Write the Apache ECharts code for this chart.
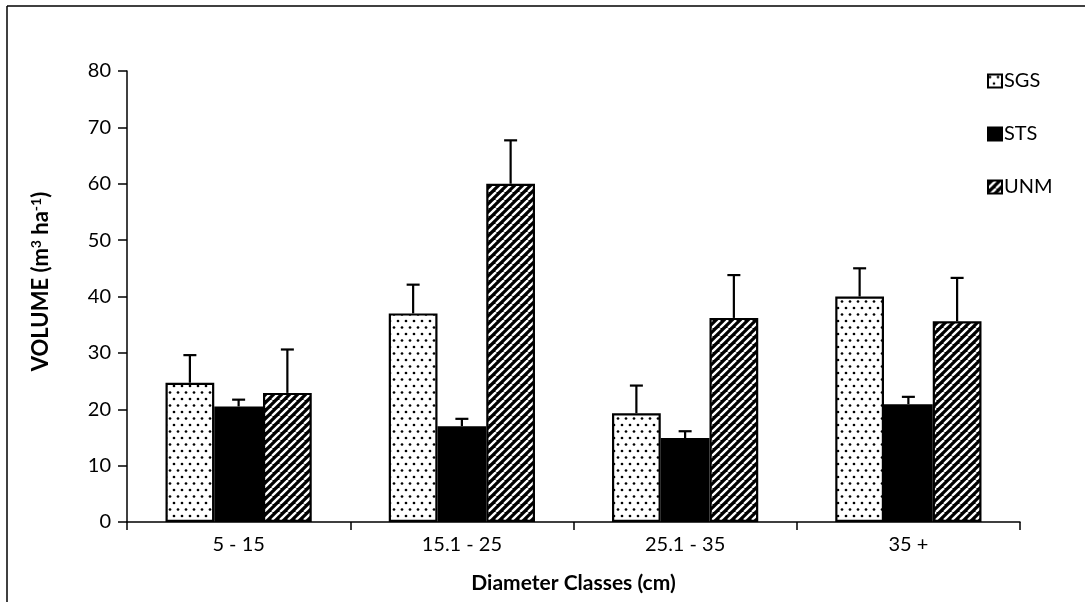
<!DOCTYPE html>
<html>
<head>
<meta charset="utf-8">
<script src="https://cdn.jsdelivr.net/npm/echarts@6/dist/echarts.min.js"></script>
<style>
  html, body { margin: 0; padding: 0; background: #fff; }
  #chart { width: 1085px; height: 602px; }
</style>
</head>
<body>
<div id="chart"></div>
<script>
// Stand volume by diameter class, three treatments, mean with upward error bars
const categories = ['5 - 15', '15.1 - 25', '25.1 - 35', '35 +'];
const seriesNames = ['SGS', 'STS', 'UNM'];
const sgsValues = [24.7, 37.0, 19.3, 40.0];
const stsValues = [20.5, 17.0, 14.9, 20.9];
const unmValues = [22.9, 60.0, 36.2, 35.6];
const sgsErrors = [4.9, 5.1, 4.9, 5.0];
const stsErrors = [1.2, 1.3, 1.2, 1.3];
const unmErrors = [7.7, 7.7, 7.6, 7.7];
const yTicks = [0, 10, 20, 30, 40, 50, 60, 70, 80];

const FONT = 'Lato, "Open Sans", sans-serif';

// Dotted fill
function dotPattern() {
  const c = document.createElement('canvas');
  c.width = 8; c.height = 13;
  const g = c.getContext('2d');
  g.fillStyle = '#fff'; g.fillRect(0, 0, 8, 13);
  g.fillStyle = '#000';
  g.beginPath(); g.arc(2, 2.5, 1.35, 0, Math.PI * 2); g.fill();
  g.beginPath(); g.arc(6, 9, 1.35, 0, Math.PI * 2); g.fill();
  return c;
}
// Diagonal hatch: white stripes on black, rising to the right
function hatchPattern() {
  const s = 8;
  const c = document.createElement('canvas');
  c.width = s; c.height = s;
  const g = c.getContext('2d');
  g.fillStyle = '#000'; g.fillRect(0, 0, s, s);
  g.strokeStyle = '#fff'; g.lineWidth = 2.3;
  for (let k = -1; k <= 1; k++) {
    g.beginPath();
    g.moveTo(k * s, s);
    g.lineTo(k * s + s, 0);
    g.stroke();
  }
  return c;
}

const fills = [
  { image: dotPattern(), repeat: 'repeat' },
  '#000',
  { image: hatchPattern(), repeat: 'repeat' }
];
const values = [sgsValues, stsValues, unmValues];
const errors = [sgsErrors, stsErrors, unmErrors];

const BAR_GAP_RATIO = 0.345;

function errorSeries(idx) {
  return {
    type: 'custom',
    name: seriesNames[idx] + ' error',
    z: 5,
    data: categories.map((c, i) => [i, values[idx][i], errors[idx][i]]),
    renderItem: function (params, api) {
      const ci = api.value(0);
      const base = api.coord([ci, api.value(1)]);
      const top = api.coord([ci, api.value(1) + api.value(2)]);
      const band = api.size([1, 0])[0];
      const bw = band * (1 - BAR_GAP_RATIO) / 3;
      const x = base[0] + (idx - 1) * bw;
      const cap = 6.5;
      return {
        type: 'group',
        children: [
          { type: 'line', shape: { x1: x, y1: base[1], x2: x, y2: top[1] }, style: { stroke: '#000', lineWidth: 2.2 } },
          { type: 'line', shape: { x1: x - cap, y1: top[1], x2: x + cap, y2: top[1] }, style: { stroke: '#000', lineWidth: 2.2 } }
        ]
      };
    }
  };
}

const chart = echarts.init(document.getElementById('chart'), null, { renderer: 'canvas' });

chart.setOption({
  animation: false,
  backgroundColor: '#fff',
  grid: { left: 127, right: 65, top: 71, bottom: 80, containLabel: false },
  legend: {
    data: seriesNames,
    orient: 'vertical',
    left: 982,
    top: 66,
    itemWidth: 14,
    itemHeight: 13,
    itemGap: 33,
    icon: 'rect',
    textStyle: { fontFamily: FONT, fontSize: 20, color: '#000', padding: [0, 0, 0, -3] }
  },
  xAxis: {
    type: 'category',
    data: categories,
    name: 'Diameter Classes (cm)',
    nameLocation: 'middle',
    nameGap: 51,
    nameTextStyle: { fontFamily: FONT, fontSize: 21, fontWeight: 'bold', color: '#000' },
    axisLine: { lineStyle: { color: '#000', width: 1.5 } },
    axisTick: { show: true, length: 8, lineStyle: { color: '#000', width: 1.5 } },
    axisLabel: { fontFamily: FONT, fontSize: 20, color: '#000', margin: 13 }
  },
  yAxis: {
    type: 'value',
    min: yTicks[0],
    max: yTicks[yTicks.length - 1],
    interval: yTicks[1] - yTicks[0],
    name: '{b|VOLUME (m}{s|3}{b| ha}{s|-1}{b|)}',
    nameLocation: 'middle',
    nameGap: 74,
    nameRotate: 90,
    nameTextStyle: {
      padding: [0, 0, 0, 30],
      rich: {
        b: { fontFamily: FONT, fontSize: 22, fontWeight: 'bold', color: '#000' },
        s: { fontFamily: FONT, fontSize: 14, fontWeight: 'bold', color: '#000', verticalAlign: 'top', padding: [0, 0, 10, 0] }
      }
    },
    axisLine: { show: true, lineStyle: { color: '#000', width: 1.5 } },
    axisTick: { show: true, length: 9, lineStyle: { color: '#000', width: 1.5 } },
    axisLabel: { fontFamily: FONT, fontSize: 20, color: '#000', margin: 16 },
    splitLine: { show: false }
  },
  series: [
    ...seriesNames.map((name, idx) => ({
      type: 'bar',
      name: name,
      data: values[idx],
      barGap: '0%',
      barCategoryGap: (BAR_GAP_RATIO * 100) + '%',
      itemStyle: { color: fills[idx], borderColor: '#000', borderWidth: 2.2 }
    })),
    errorSeries(0),
    errorSeries(1),
    errorSeries(2)
  ],
  graphic: [
    { type: 'line', shape: { x1: 7, y1: 6, x2: 1085, y2: 6 }, style: { stroke: '#000', lineWidth: 1.5 } },
    { type: 'line', shape: { x1: 7, y1: 6, x2: 7, y2: 602 }, style: { stroke: '#000', lineWidth: 1.5 } }
  ]
});
</script>
</body>
</html>
